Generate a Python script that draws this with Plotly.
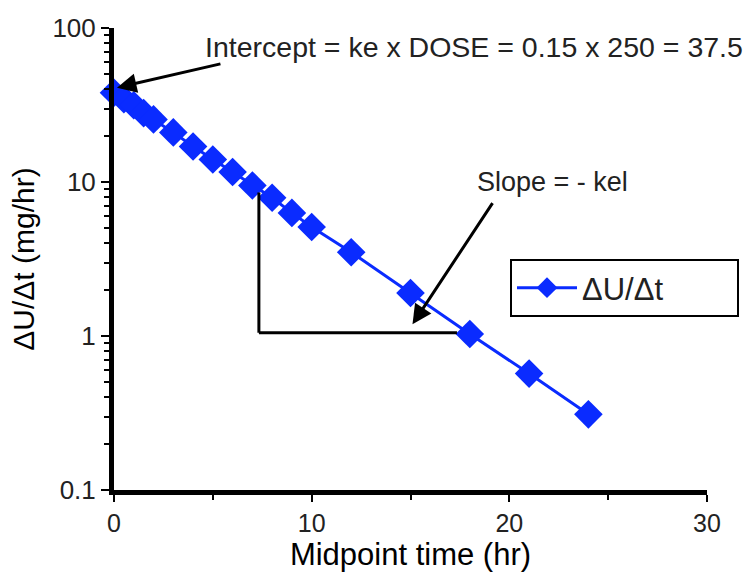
import math
import plotly.graph_objects as go

# Data
midpoint_time_hr = [0, 0.5, 1, 1.5, 2, 3, 4, 5, 6, 7, 8, 9, 10, 12, 15, 18, 21, 24]
rate_mg_per_hr = [38, 34.5, 31.5, 28, 25.5, 21, 17, 14, 11.6, 9.5, 7.9, 6.3, 5.1, 3.5, 1.9, 1.03, 0.57, 0.31]
series_name = "ΔU/Δt"
x_tick_vals = [0, 10, 20, 30]
y_tick_vals = [0.1, 1, 10, 100]
y_tick_text = ["0.1", "1", "10", "100"]
y_minor_vals = [m * d for d in (0.1, 1, 10) for m in range(2, 10)]

# Annotation geometry (data units)
intercept_head = (0.15, 41.0)
intercept_tail = (5.46, 58.8)
slope_head = (15.1, 1.19)
slope_tail = (19.2, 7.46)
tri_x0, tri_x1 = 7.33, 17.35
tri_ytop, tri_ybot = 8.55, 1.05

FONT = "Liberation Sans, Arial, sans-serif"
BLUE = "#0A2BFF"

fig = go.Figure()
fig.add_trace(go.Scatter(
    x=midpoint_time_hr, y=rate_mg_per_hr, name=series_name,
    mode="lines+markers",
    line=dict(color=BLUE, width=3),
    marker=dict(symbol="diamond", size=22, color=BLUE),
    cliponaxis=False,
))

L = math.log10
fig.add_shape(type="line", xref="x", yref="y", x0=tri_x0, x1=tri_x0,
              y0=tri_ytop, y1=tri_ybot, line=dict(color="black", width=3))
fig.add_shape(type="line", xref="x", yref="y", x0=tri_x0, x1=tri_x1,
              y0=tri_ybot, y1=tri_ybot, line=dict(color="black", width=3))

fig.add_annotation(x=intercept_head[0], y=L(intercept_head[1]), ax=intercept_tail[0], ay=L(intercept_tail[1]),
                   xref="x", yref="y", axref="x", ayref="y", text="", showarrow=True,
                   arrowhead=2, arrowsize=1.3, arrowwidth=3, arrowcolor="black")
fig.add_annotation(x=slope_head[0], y=L(slope_head[1]), ax=slope_tail[0], ay=L(slope_tail[1]),
                   xref="x", yref="y", axref="x", ayref="y", text="", showarrow=True,
                   arrowhead=2, arrowsize=1.3, arrowwidth=3, arrowcolor="black")
fig.add_annotation(x=203, y=47, xref="paper", yref="paper", text="Intercept = ke x DOSE = 0.15 x 250 = 37.5",
                   showarrow=False, xanchor="left", yanchor="middle",
                   font=dict(family=FONT, size=28.5, color="#222"))
fig.add_annotation(x=552, y=182, xref="paper", yref="paper", text="Slope = - kel",
                   showarrow=False, xanchor="center", yanchor="middle",
                   font=dict(family=FONT, size=27, color="#222"))

W, H = 744, 575
ml, mr, mt, mb = 114, 37, 28, 85
pw, ph = W - ml - mr, H - mt - mb
# convert pixel-placed text annotations to paper coords
for a in fig.layout.annotations:
    if a.xref == "paper":
        a.x = (a.x - ml) / pw
        a.y = (H - mb - a.y) / ph

fig.update_layout(
    width=W, height=H, margin=dict(l=ml, r=mr, t=mt, b=mb, autoexpand=False),
    plot_bgcolor="white", paper_bgcolor="white",
    font=dict(family=FONT, color="#222"),
    showlegend=True,
    legend=dict(orientation="h", x=(510 - ml) / pw, y=(H - mb - 259) / ph, xanchor="left", yanchor="top",
                bordercolor="black", borderwidth=2, bgcolor="white",
                font=dict(family=FONT, size=31, color="#222"),
                entrywidth=150, entrywidthmode="pixels", itemwidth=60, tracegroupgap=0),
    xaxis=dict(range=[0, 30], tickvals=x_tick_vals, showgrid=False, zeroline=False,
               showline=True, linecolor="black", linewidth=5,
               ticks="outside", ticklen=7, tickwidth=1.5, tickcolor="black",
               minor=dict(tickvals=[5, 15, 25], ticks="outside", ticklen=5, tickwidth=1.5, tickcolor="black"),
               tickfont=dict(family=FONT, size=25, color="#222"),
               title=dict(text="Midpoint time (hr)", font=dict(family=FONT, size=31, color="black"), standoff=0)),
    yaxis=dict(type="log", range=[-1, 2], tickvals=y_tick_vals, ticktext=y_tick_text,
               showgrid=False, zeroline=False,
               showline=True, linecolor="black", linewidth=5,
               ticks="outside", ticklen=8, tickwidth=1.5, tickcolor="black",
               minor=dict(tickvals=y_minor_vals, ticks="outside", ticklen=5, tickwidth=1.5,
                          tickcolor="black", showgrid=False),
               tickfont=dict(family=FONT, size=26, color="#222"),
               title=dict(text="ΔU/Δt (mg/hr)", font=dict(family=FONT, size=30, color="black"), standoff=10)),
)

fig.write_html("out.html")
